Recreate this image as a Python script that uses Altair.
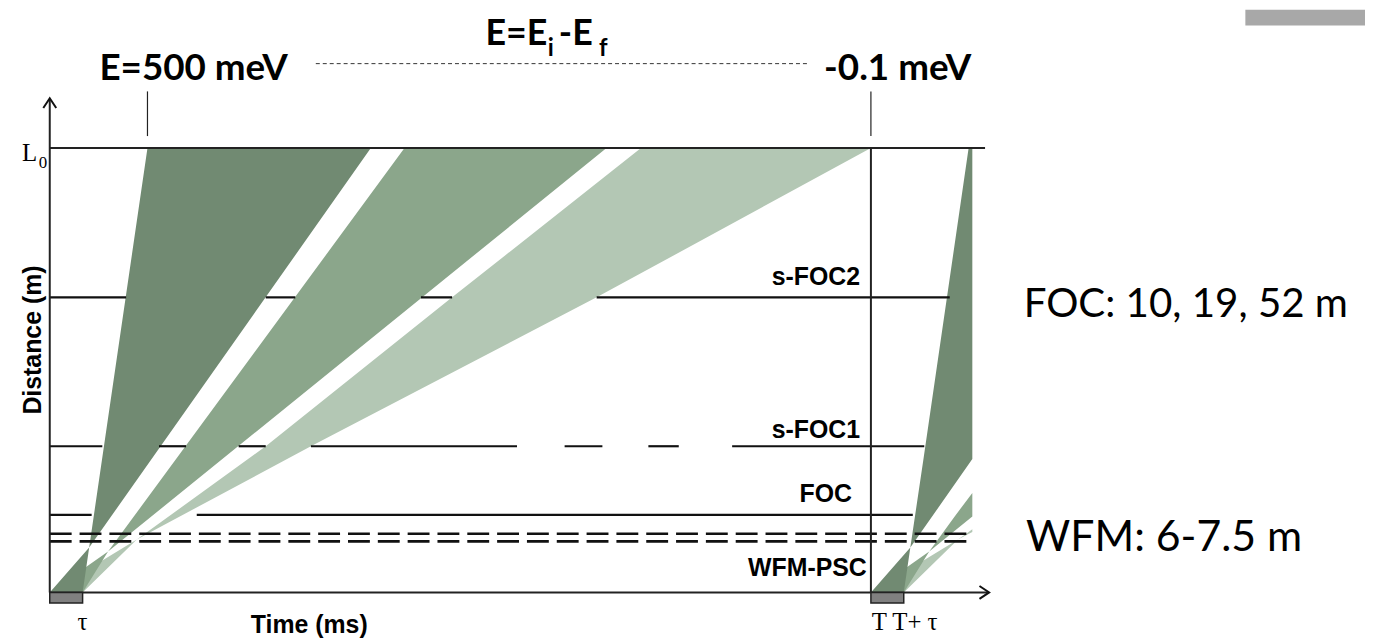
import altair as alt
import pandas as pd

# ---------------- values ----------------
# schematic units: time with frame period T = 100 and source pulse tau = 4,
# distance with L0 = 100
T_PERIOD = 100.0
TAU = 4.0
L0 = 100.0

band_names = ["-0.1 meV band", "mid band", "500 meV band"]
band_colors = ["#b3c7b4", "#8ba68b", "#718a72"]

# band outlines (frame 1): distance levels, left and right edge times
slow_d = [0.0, 11.9, 32.9, 66.4, 100.0]
slow_t1 = [0.0, 10.6, 26.3, 49.0, 72.0]
slow_t2 = [4.0, 10.6, 31.8, 66.6, 100.0]
mid_d = [0.0, 9.2, 100.0]
mid_t1 = [0.0, 7.1, 43.2]
mid_t2 = [4.0, 7.1, 67.8]
fast_d = [0.0, 10.1, 100.0]
fast_t1 = [0.0, 4.8, 11.9]
fast_t2 = [4.0, 4.8, 39.1]

# band outlines of the next frame (start at T), cut at the diagram edge
slow2_d = [0.0, 11.9, 13.6, 14.2]
slow2_t1 = [100.0, 110.6, 111.9, 112.35]
slow2_t2 = [104.0, 110.6, 112.35, 112.35]
mid2_d = [0.0, 9.2, 17.1, 22.4]
mid2_t1 = [100.0, 107.1, 110.2, 112.35]
mid2_t2 = [104.0, 107.1, 112.35, 112.35]
fast2_d = [0.0, 10.1, 30.0, 100.0]
fast2_t1 = [100.0, 104.8, 106.4, 111.9]
fast2_t2 = [104.0, 104.8, 112.35, 112.35]

# chopper planes: distance and the closed (drawn) time segments
wfm_d = [13.2, 11.5]
wfm_t = [0.0, 112.0]
foc_d = 17.45
foc_segs = [(0.0, 5.1), (17.9, 105.1)]
sfoc1_d = 32.9
sfoc1_segs = [(0.0, 6.4), (13.3, 16.6), (23.0, 26.3), (31.8, 56.9),
              (62.7, 67.3), (72.9, 76.6), (83.1, 106.5)]
sfoc2_d = 66.4
sfoc2_segs = [(0.0, 9.3), (26.3, 29.9), (45.2, 49.0), (66.6, 109.6)]

# energy markers above the diagram
energy_t = [11.9, 100.0]
energy_labels = ["E=500 meV", "-0.1 meV"]

# ---------------- layout ----------------
W, H = 1365, 635
XS = alt.Scale(domain=[-5.085, 160.17], nice=False, zero=False)
YS = alt.Scale(domain=[-10.96, 131.1], nice=False, zero=False)


def xe(f="t"):
    return alt.X(f"{f}:Q", scale=XS, axis=None)


def ye(f="d"):
    return alt.Y(f"{f}:Q", scale=YS, axis=None)


layers = []

# slide remnant in the top-right corner
corner_df = pd.DataFrame({"t": [145.6], "t2": [160.17], "d": [127.6], "d2": [131.1]})
layers.append(
    alt.Chart(corner_df).mark_rect(color="#a8a8a8")
    .encode(x=xe(), x2=alt.X2("t2:Q"), y=ye(), y2=alt.Y2("d2:Q"))
)

# bands
bands = [
    (band_colors[0], slow_d, slow_t1, slow_t2),
    (band_colors[1], mid_d, mid_t1, mid_t2),
    (band_colors[2], fast_d, fast_t1, fast_t2),
    (band_colors[0], slow2_d, slow2_t1, slow2_t2),
    (band_colors[1], mid2_d, mid2_t1, mid2_t2),
    (band_colors[2], fast2_d, fast2_t1, fast2_t2),
]
for col, d, t1, t2 in bands:
    df = pd.DataFrame({"d": d, "t": t1, "t2": t2})
    layers.append(
        alt.Chart(df).mark_area(orient="horizontal", color=col, opacity=1)
        .encode(y=ye(), x=xe(), x2=alt.X2("t2:Q"))
    )

# solid horizontal chopper segments
hrows = []
for a, b in foc_segs:
    hrows.append({"t": a, "t2": b, "d": foc_d})
for a, b in sfoc1_segs:
    hrows.append({"t": a, "t2": b, "d": sfoc1_d})
for a, b in sfoc2_segs:
    hrows.append({"t": a, "t2": b, "d": sfoc2_d})
layers.append(
    alt.Chart(pd.DataFrame(hrows)).mark_rule(color="#111111", strokeWidth=2.2)
    .encode(x=xe(), x2=alt.X2("t2:Q"), y=ye())
)

# WFM dashed pair
wdf = pd.DataFrame({"t": [wfm_t[0]] * 2, "t2": [wfm_t[1]] * 2, "d": wfm_d})
layers.append(
    alt.Chart(wdf).mark_rule(color="#111111", strokeWidth=2.6, strokeDash=[22, 8])
    .encode(x=xe(), x2=alt.X2("t2:Q"), y=ye())
)

# L0 line and axes
frame_h = pd.DataFrame({"t": [0.0, 0.0], "t2": [113.9, 114.2], "d": [L0, 0.0]})
layers.append(
    alt.Chart(frame_h).mark_rule(color="#222222", strokeWidth=2)
    .encode(x=xe(), x2=alt.X2("t2:Q"), y=ye())
)
frame_v = pd.DataFrame({"t": [0.0, T_PERIOD], "d": [0.0, 0.0], "d2": [111.0, L0]})
layers.append(
    alt.Chart(frame_v).mark_rule(color="#222222", strokeWidth=2)
    .encode(x=xe(), y=ye(), y2=alt.Y2("d2:Q"))
)

# energy marker ticks and dashed connector
tick_df = pd.DataFrame({"t": energy_t, "d": [102.7] * 2, "d2": [112.75] * 2})
layers.append(
    alt.Chart(tick_df).mark_rule(color="#222222", strokeWidth=1.2)
    .encode(x=xe(), y=ye(), y2=alt.Y2("d2:Q"))
)
conn_df = pd.DataFrame({"t": [32.4], "t2": [92.3], "d": [119.0]})
layers.append(
    alt.Chart(conn_df).mark_rule(color="#333333", strokeWidth=1, strokeDash=[4, 3])
    .encode(x=xe(), x2=alt.X2("t2:Q"), y=ye())
)

# source pulse boxes
box_df = pd.DataFrame({"t": [0.0, T_PERIOD], "t2": [TAU, T_PERIOD + TAU],
                       "d": [-2.4, -2.4], "d2": [0.0, 0.0]})
layers.append(
    alt.Chart(box_df).mark_rect(color="#808080", stroke="#222222", strokeWidth=1.5)
    .encode(x=xe(), x2=alt.X2("t2:Q"), y=ye(), y2=alt.Y2("d2:Q"))
)

# arrow heads
up_df = pd.DataFrame({"t": [0.0], "d": [111.2]})
layers.append(
    alt.Chart(up_df).mark_point(shape="M-1,1.5L0,0L1,1.5", filled=False, size=169,
                                color="#111111", strokeWidth=2, opacity=1)
    .encode(x=xe(), y=ye())
)
right_df = pd.DataFrame({"t": [114.4], "d": [0.0]})
layers.append(
    alt.Chart(right_df).mark_point(shape="M-1.5,-1L0,0L-1.5,1", filled=False, size=169,
                                   color="#111111", strokeWidth=2, opacity=1)
    .encode(x=xe(), y=ye())
)


# ---------------- texts ----------------
def text_layer(rows, font, weight, align):
    df = pd.DataFrame(rows, columns=["text", "t", "d", "size", "angle"])
    return (
        alt.Chart(df).mark_text(font=font, fontWeight=weight, align=align,
                                baseline="alphabetic", color="#000000")
        .encode(x=xe(), y=ye(), text="text:N",
                size=alt.Size("size:Q", scale=None),
                angle=alt.Angle("angle:Q", scale=None))
    )


layers.append(text_layer([
    [energy_labels[0], 6.05, 115.4, 37, 0],
    [energy_labels[1], 94.3, 115.4, 37, 0],
    ["-E", 62.0, 123.3, 36, 0],
    ["f", 66.9, 120.8, 24, 0],
], "Lato", "bold", "left"))

layers.append(text_layer([
    ["E=E", 60.6, 123.3, 36, 0],
], "Lato", "bold", "right"))

layers.append(text_layer([
    ["i", 61.0, 120.8, 24, 0],
], "Lato", "bold", "center"))

layers.append(text_layer([
    ["FOC: 10, 19, 52 m", 118.6, 62.0, 40.5, 0],
    ["WFM: 6-7.5 m", 118.9, 9.4, 43, 0],
], "Lato", "normal", "left"))

layers.append(text_layer([
    ["s-FOC2", 98.67, 69.1, 25, 0],
    ["s-FOC1", 98.67, 34.7, 25, 0],
    ["FOC", 97.7, 20.4, 25, 0],
    ["WFM-PSC", 99.5, 3.8, 25, 0],
], "Liberation Sans", "bold", "right"))

layers.append(text_layer([
    ["Time (ms)", 31.6, -9.17, 25, 0],
    ["Distance (m)", -1.03, 56.8, 25, 270],
], "Liberation Sans", "bold", "center"))

layers.append(text_layer([
    ["L", -3.39, 97.1, 25, 0],
    ["0", -1.33, 95.5, 17, 0],
    ["\u03c4", 3.39, -8.5, 25, 0],
    ["T T+ \u03c4", 100.1, -8.5, 25, 0],
], "Liberation Serif", "normal", "left"))

chart = (
    alt.layer(*layers)
    .properties(width=W, height=H, autosize=alt.AutoSizeParams(type="none"),
                padding=0, background="white")
    .configure_view(strokeWidth=0)
)

chart.save("out.html", embed_options={"renderer": "svg", "actions": False})
